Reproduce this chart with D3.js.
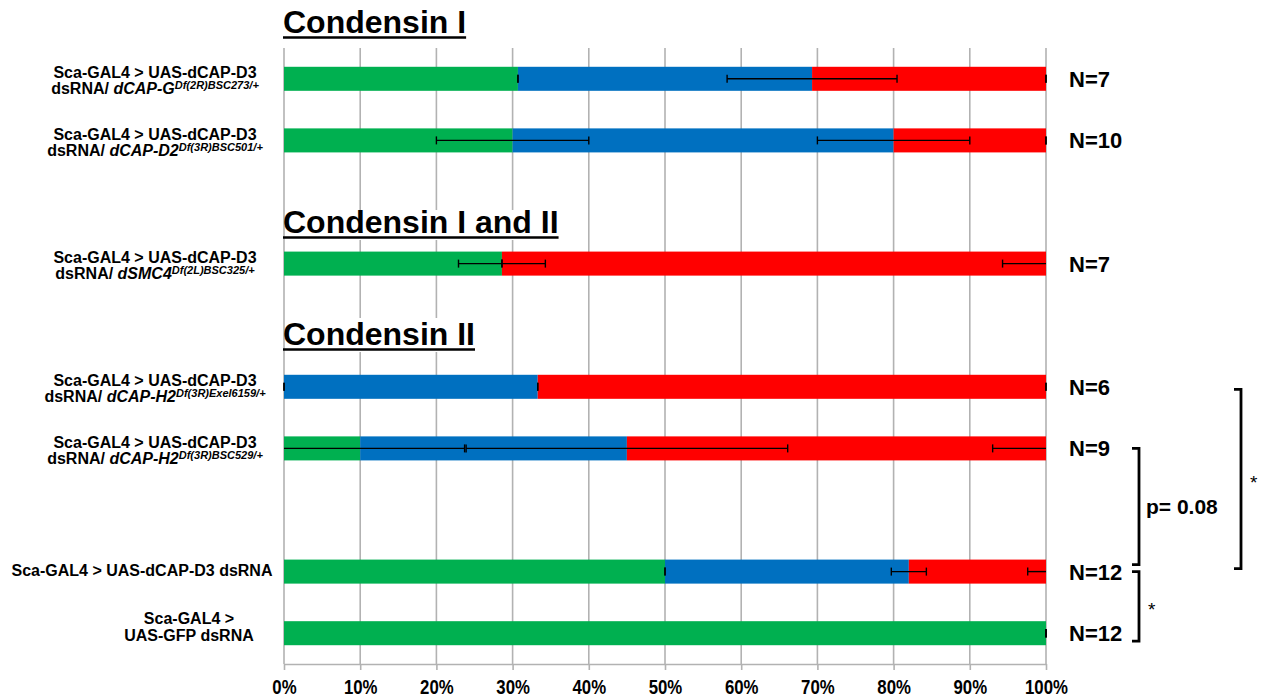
<!DOCTYPE html>
<html>
<head>
<meta charset="utf-8">
<script src="https://cdn.jsdelivr.net/npm/d3@7"></script>
<style>
  html, body { margin: 0; padding: 0; background: #fff; }
  svg { display: block; font-family: "Liberation Sans", Arial, Helvetica, sans-serif; }
</style>
</head>
<body>
<svg id="chart" width="1262" height="698"></svg>
<script>
// Genotypes, top to bottom
const categories = [
  "dCAP-G Df(2R)BSC273",
  "dCAP-D2 Df(3R)BSC501",
  "dSMC4 Df(2L)BSC325",
  "dCAP-H2 Df(3R)Exel6159",
  "dCAP-H2 Df(3R)BSC529",
  "dCAP-D3 dsRNA",
  "GFP dsRNA"
];
// Percentage of each phenotype class (green / blue / red)
const greenPct = [30.7, 30, 28.6, 0, 10, 50, 100];
const bluePct  = [38.6, 50, 0, 33.3, 35, 32, 0];
const redPct   = [30.7, 20, 71.4, 66.7, 55, 18, 0];
// Error of each cumulative boundary (percentage points)
const greenErr = [0, 10, 5.7, 0, 13.7, 0, 0];
const blueErr  = [11.15, 10, 0, 0, 21.1, 2.3, 0];
const redErr   = [0, 0, 5.7, 0, 7, 2.4, 0];
// Sample sizes
const nValues = [7, 10, 7, 6, 9, 12, 12];
// Axis ticks
const xTicks = [0, 10, 20, 30, 40, 50, 60, 70, 80, 90, 100];
// Section headings
const sectionTitles = ["Condensin I", "Condensin I and II", "Condensin II"];
// Row label pieces
const labelFirst = [
  "Sca-GAL4 > UAS-dCAP-D3", "Sca-GAL4 > UAS-dCAP-D3", "Sca-GAL4 > UAS-dCAP-D3",
  "Sca-GAL4 > UAS-dCAP-D3", "Sca-GAL4 > UAS-dCAP-D3", "Sca-GAL4 > UAS-dCAP-D3 dsRNA", "Sca-GAL4 >"
];
const labelGene = ["dCAP-G", "dCAP-D2", "dSMC4", "dCAP-H2", "dCAP-H2", null, null];
const labelSup = ["Df(2R)BSC273/+", "Df(3R)BSC501/+", "Df(2L)BSC325/+", "Df(3R)Exel6159/+", "Df(3R)BSC529/+", null, null];
const labelSecond = ["dsRNA/ ", "dsRNA/ ", "dsRNA/ ", "dsRNA/ ", "dsRNA/ ", null, "UAS-GFP dsRNA"];
// Statistical comparisons between rows
const compFrom  = [4, 3, 5];
const compTo    = [5, 5, 6];
const compLabel = ["p= 0.08", "*", "*"];

const colors = { green: "#00b050", blue: "#0070c0", red: "#ff0000" };
const gridColor = "#b2b2b2";

const svg = d3.select("#chart");

// Row slots: blank slots hold the section headings
const slots = [
  categories[0], categories[1], "gap-a", categories[2], "gap-b",
  categories[3], categories[4], "gap-c", categories[5], categories[6]
];
const y = d3.scaleBand().domain(slots).range([48, 664]).paddingInner(0.61).paddingOuter(0.305);
const x = d3.scaleLinear().domain([0, 100]).range([284, 1046]);
const yc = c => y(c) + y.bandwidth() / 2;

// Vertical gridlines
svg.append("g").selectAll("line").data(xTicks).join("line")
  .attr("x1", d => x(d)).attr("x2", d => x(d))
  .attr("y1", 48).attr("y2", 664)
  .attr("stroke", gridColor).attr("stroke-width", 1.6);

// Bottom axis
const axis = svg.append("g").attr("transform", "translate(0,664)")
  .call(d3.axisBottom(x).tickValues(xTicks).tickSize(6).tickSizeOuter(0).tickFormat(d => d + "%"));
axis.select(".domain").attr("stroke", gridColor).attr("stroke-width", 1.6);
axis.selectAll(".tick line").attr("stroke", gridColor).attr("stroke-width", 1.6);
axis.selectAll(".tick text")
  .attr("y", 0).attr("dy", null)
  .attr("transform", "translate(0,30) scale(0.8,1)")
  .attr("fill", "#000").attr("font-size", 21).attr("font-weight", "bold")
  .attr("font-family", "'Liberation Sans', Arial, sans-serif");

// Section headings (white box masks the gridlines behind them)
const titleBase = [33, 233, 345];
const titleMaskTop = [0, 210, 318];
const titleMaskBottom = [40, 240, 352];
sectionTitles.forEach((t, i) => {
  const g = svg.append("g");
  const rect = g.append("rect").attr("fill", "#fff");
  const txt = g.append("text")
    .attr("x", 283).attr("y", titleBase[i])
    .attr("font-size", 32).attr("font-weight", "bold").attr("fill", "#000")
    .text(t);
  const w = txt.node().getComputedTextLength();
  rect.attr("x", 285).attr("y", titleMaskTop[i]).attr("width", w + 2)
    .attr("height", titleMaskBottom[i] - titleMaskTop[i]);
  g.append("line")
    .attr("x1", 283).attr("x2", 283 + w)
    .attr("y1", titleBase[i] + 4.5).attr("y2", titleBase[i] + 4.5)
    .attr("stroke", "#000").attr("stroke-width", 2.6);
});

// Stacked bars
const table = categories.map((c, i) => ({
  cat: c, green: greenPct[i], blue: bluePct[i], red: redPct[i]
}));
const keys = ["green", "blue", "red"];
const stacked = d3.stack().keys(keys)(table);
svg.append("g").selectAll("g").data(stacked).join("g")
  .attr("fill", s => colors[s.key])
  .selectAll("rect").data(s => s).join("rect")
  .attr("x", d => x(d[0]))
  .attr("width", d => Math.max(0, x(d[1]) - x(d[0])))
  .attr("y", d => y(d.data.cat))
  .attr("height", y.bandwidth());

// Error bars at each cumulative boundary
const errs = { green: greenErr, blue: blueErr, red: redErr };
const eg = svg.append("g").attr("stroke", "#000").attr("stroke-width", 1.4);
stacked.forEach(s => {
  s.forEach((d, i) => {
    const c = d[1], e = errs[s.key][i], cy = yc(d.data.cat);
    const lo = c - e, hi = c + e;
    const a = Math.max(0, lo), b = Math.min(100, hi);
    if (e > 0) eg.append("line").attr("x1", x(a)).attr("x2", x(b)).attr("y1", cy).attr("y2", cy);
    [lo, hi].forEach(v => {
      if (v >= 0 && v <= 100) {
        eg.append("line").attr("x1", x(v)).attr("x2", x(v)).attr("y1", cy - 4).attr("y2", cy + 4);
      }
    });
  });
});

// Row labels
const labelCx = [155, 155, 155, 155, 155, 142, 189];
const lg = svg.append("g").attr("font-weight", "bold").attr("font-size", 16).attr("fill", "#000");
categories.forEach((c, i) => {
  const cy = yc(c);
  if (i < 5) {
    lg.append("text").attr("x", labelCx[i]).attr("y", cy - 0.5).attr("text-anchor", "middle").text(labelFirst[i]);
    const t2 = lg.append("text").attr("x", labelCx[i]).attr("y", cy + 15.5).attr("text-anchor", "middle");
    t2.append("tspan").text(labelSecond[i]);
    t2.append("tspan").attr("font-style", "italic").text(labelGene[i]);
    t2.append("tspan").attr("font-style", "italic").attr("font-size", 11).attr("dy", -5).text(labelSup[i]);
  } else if (i === 5) {
    lg.append("text").attr("x", labelCx[i]).attr("y", cy + 4).attr("text-anchor", "middle").text(labelFirst[i]);
  } else {
    lg.append("text").attr("x", labelCx[i]).attr("y", cy - 9).attr("text-anchor", "middle").text(labelFirst[i]);
    lg.append("text").attr("x", labelCx[i]).attr("y", cy + 8).attr("text-anchor", "middle").text(labelSecond[i]);
  }
});

// Sample size labels
svg.append("g").selectAll("text").data(categories).join("text")
  .attr("x", 1069).attr("y", d => yc(d) + 8)
  .attr("font-size", 22).attr("font-weight", "bold").attr("fill", "#000")
  .text((d, i) => "N=" + nValues[i]);

// Comparison brackets
const bracketX   = [1139, 1241, 1139];
const bracketTop = [0, 2.5, 0];
const bracketBot = [-7, -3, 8];
const bg = svg.append("g");
compLabel.forEach((lab, k) => {
  const y1 = yc(categories[compFrom[k]]) + bracketTop[k];
  const y2 = yc(categories[compTo[k]]) + bracketBot[k];
  const bx = bracketX[k];
  bg.append("path")
    .attr("d", `M${bx - 7},${y1}H${bx}V${y2}H${bx - 7}`)
    .attr("fill", "none").attr("stroke", "#000").attr("stroke-width", 2.8);
  const my = (y1 + y2) / 2;
  if (lab === "*") {
    bg.append("text").attr("x", bx + 9).attr("y", my + 10)
      .attr("font-size", 19).attr("fill", "#000").text(lab);
  } else {
    bg.append("text").attr("x", bx + 7).attr("y", my + 7)
      .attr("font-size", 21).attr("font-weight", "bold").attr("fill", "#000").text(lab);
  }
});
</script>
</body>
</html>
